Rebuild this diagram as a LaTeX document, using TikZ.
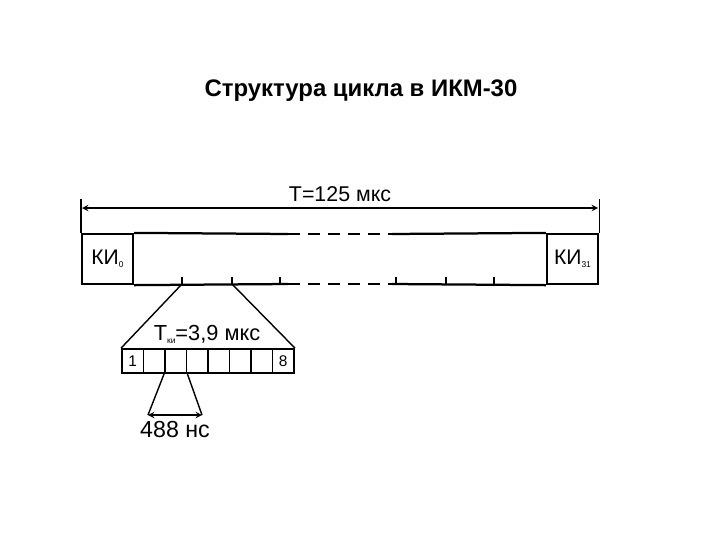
\documentclass[tikz,border=0pt]{standalone}
\usepackage{fontspec}
\setmainfont{Liberation Sans}
\usetikzlibrary{positioning}
\tikzset{slot/.style={draw,line width=1.6pt,minimum width=1.275cm,minimum height=1.25cm,inner sep=0pt,font=\fontsize{15}{17}\selectfont}}
\tikzset{cell/.style={draw,line width=1.3pt,minimum width=0.5375cm,minimum height=0.6cm,inner sep=0pt,font=\fontsize{11}{13}\selectfont}}
\tikzset{gap/.style={line width=1.6pt,dash pattern=on 8.5pt off 5.7pt}}
\newcommand{\lowidx}[1]{\raisebox{-2pt}{\fontsize{6}{7}\selectfont #1}}

\begin{document}
\begin{tikzpicture}[>=stealth,x=0.025cm,y=-0.025cm]
    \useasboundingbox (0,0) rectangle (720,540);
    \node[font=\bfseries\fontsize{17}{20}\selectfont] (title) at (361,91) {Структура цикла в ИКМ-30};

    \node[slot] (ki0) at (107.5,259) {КИ\lowidx{0}};
    \node[slot] (ki31) at (572.5,259) {КИ\lowidx{31}};

    \coordinate (tl) at (288,234);
    \coordinate (tr) at (392,234);
    \coordinate (bl) at (288,284);
    \coordinate (br) at (392,284);
    \draw [line width=1.6pt] (ki0.north east) to []node[]{} (tl);
    \draw [gap] (tl) to []node[]{} (tr);
    \draw [line width=1.6pt] (tr) to []node[]{} (ki31.north west);
    \draw [line width=1.6pt] (ki0.south east) to []node[]{} (bl);
    \draw [gap] (bl) to []node[]{} (br);
    \draw [line width=1.6pt] (br) to []node[]{} (ki31.south west);

    % ticks
    \foreach \x/\n in {182/t1,232/t2,280/t3,396/t4,446/t5,494/t6}{
        \coordinate (\n) at (\x,284);
        \draw [line width=1.3pt] (\n) -- ++(0,-7);
    }

    % period
    \coordinate (al) at (82,208);
    \coordinate (ar) at (598,208);
    \draw [line width=0.9pt] (ki0.north west) to []node[]{} ++(0,-34);
    \draw [line width=0.9pt] (ki31.north east) to []node[]{} ++(0,-34);
    \draw [<->,line width=1pt] (al) to []node[above=1pt,font=\fontsize{15.2}{17}\selectfont]{T=125 мкс} (ar);

    % channel interval
    \foreach \i in {1,...,8}
        \node[cell] (c\i) at ({122+21.5*(\i-0.5)},361) {};
    \node[font=\fontsize{11}{13}\selectfont] (n1) at (c1) {1};
    \node[font=\fontsize{11}{13}\selectfont] (n8) at (c8) {8};
    \draw [line width=1pt] (t1) to []node[]{} (c1.north west);
    \draw [line width=1pt] (t2) to []node[]{} (c8.north east);
    \node[font=\fontsize{15.5}{17}\selectfont] (tki) at (207,334) {T\lowidx{ки}=3,9 мкс};

    % bit
    \coordinate (bl1) at (148,415);
    \coordinate (br1) at (202,415);
    \draw [line width=1pt] (c3.south west) to []node[]{} (bl1);
    \draw [line width=1pt] (c3.south east) to []node[]{} (br1);
    \draw [<->,line width=1pt] (bl1) to []node[]{} (br1);
    \node[font=\fontsize{16.5}{18}\selectfont,below=1pt of bl1.south east,anchor=north,xshift=0.675cm] (bit) {488 нс};
\end{tikzpicture}
\end{document}
